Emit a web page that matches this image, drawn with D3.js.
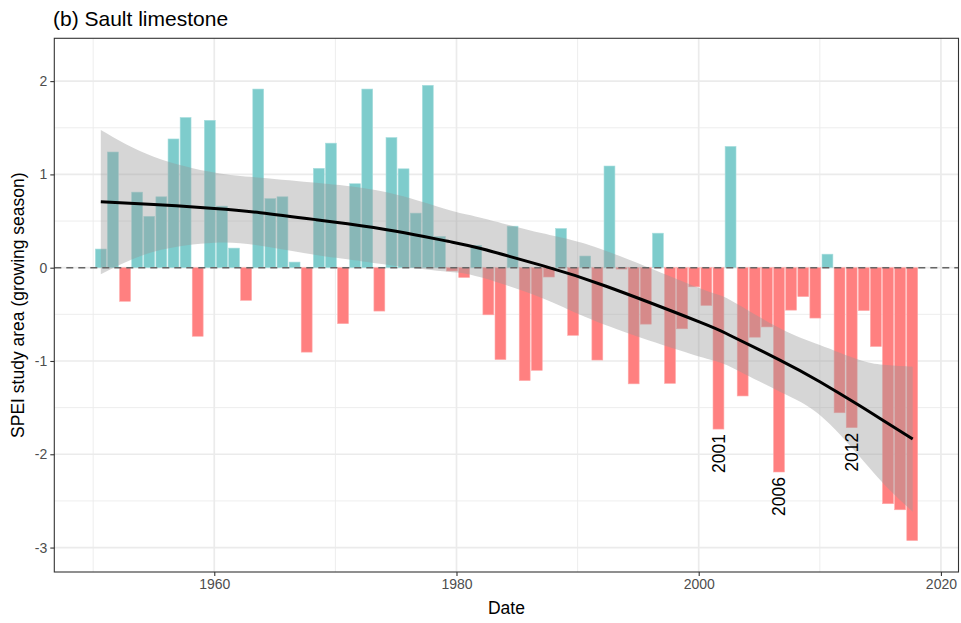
<!DOCTYPE html>
<html>
<head>
<meta charset="utf-8">
<script src="https://cdn.jsdelivr.net/npm/d3@7"></script>
<style>
  html, body { margin: 0; padding: 0; background: #ffffff; }
  svg { display: block; font-family: "Liberation Sans", Arial, sans-serif; }
</style>
</head>
<body>
<svg id="chart" width="961" height="623"></svg>
<script>
// ---------------- data ----------------
const years = [1950,1951,1952,1953,1954,1955,1956,1957,1958,1959,
               1960,1961,1962,1963,1964,1965,1966,1967,1968,1969,
               1970,1971,1972,1973,1974,1975,1976,1977,1978,1979,
               1980,1981,1982,1983,1984,1985,1986,1987,1988,1989,
               1990,1991,1992,1993,1994,1995,1996,1997,1998,1999,
               2000,2001,2002,2003,2004,2005,2006,2007,2008,2009,
               2010,2011,2012,2013,2014,2015,2016,2017];
const spei = [0.20, 1.24, -0.36, 0.81, 0.55, 0.76, 1.38, 1.61, -0.735, 1.58,
              0.66, 0.21, -0.35, 1.915, 0.74, 0.76, 0.06, -0.905, 1.065, 1.335,
              -0.60, 0.90, 1.915, -0.465, 1.395, 1.06, 0.585, 1.955, 0.335, -0.035,
              -0.105, 0.24, -0.505, -0.985, 0.445, -1.21, -1.10, -0.10, 0.42, -0.725,
              0.125, -0.99, 1.09, -0.015, -1.245, -0.605, 0.37, -1.24, -0.655, -0.205,
              -0.405, -1.73, 1.30, -1.375, -0.745, -0.635, -2.19, -0.455, -0.31, -0.54,
              0.145, -1.555, -1.715, -0.46, -0.845, -2.53, -2.595, -2.925];
// observation date within each year (month index, day)
const obsMonth = 7, obsDay = 19;

// fitted trend (decimal year), fit, lower and upper confidence band
const smoothYear  = [1950.63, 1955, 1960, 1963.8, 1968.4, 1971, 1975, 1979.3, 1982, 1987.1, 1992.3, 2000.1, 2002.6, 2006.7, 2010, 2013.3, 2015.5, 2017.67];
const smoothFit   = [0.707, 0.678, 0.635, 0.59, 0.515, 0.47, 0.39, 0.283, 0.205, 0.022, -0.196, -0.583, -0.727, -0.99, -1.222, -1.48, -1.66, -1.836];
const smoothLower = [-0.071, 0.171, 0.268, 0.236, 0.136, 0.09, 0.018, -0.043, -0.103, -0.328, -0.614, -0.954, -1.061, -1.329, -1.579, -2.026, -2.347, -2.615];
const smoothUpper = [1.476, 1.19, 1.02, 0.965, 0.91, 0.875, 0.785, 0.62, 0.535, 0.368, 0.182, -0.221, -0.346, -0.65, -0.829, -0.989, -1.043, -1.061];

const labelYears = [2001, 2006, 2012];
const xTickYears = [1960, 1980, 2000, 2020];
const xMinorYears = [1950, 1970, 1990, 2010];
const yTicks = [-3, -2, -1, 0, 1, 2];
const yMinor = [-2.5, -1.5, -0.5, 0.5, 1.5];

const titleText = "(b) Sault limestone";
const xTitle = "Date";
const yTitle = "SPEI study area (growing season)";

// ---------------- helpers ----------------
function decDate(yf) {
  const y = Math.floor(yf);
  const s = new Date(y, 0, 1), e = new Date(y + 1, 0, 1);
  return new Date(+s + (yf - y) * (e - s));
}
const DAY = 86400000;

// ---------------- layout ----------------
const L = 54.3, R = 958.5, T = 38.3, B = 572;
const svg = d3.select("#chart");

const x = d3.scaleTime()
  .domain([decDate(1946.79), decDate(2021.45)])
  .range([L, R]);
const y = d3.scaleLinear()
  .domain([-3.262, 2.459])
  .range([B, T]);

svg.append("rect").attr("x", L).attr("y", T).attr("width", R - L).attr("height", B - T).attr("fill", "#fff");

const grid = svg.append("g");
grid.selectAll(".xmin").data(xMinorYears).join("line")
  .attr("x1", d => x(new Date(d, 0, 1))).attr("x2", d => x(new Date(d, 0, 1)))
  .attr("y1", T).attr("y2", B).attr("stroke", "#ebebeb").attr("stroke-width", 0.9);
grid.selectAll(".ymin").data(yMinor).join("line")
  .attr("x1", L).attr("x2", R).attr("y1", d => y(d)).attr("y2", d => y(d))
  .attr("stroke", "#ebebeb").attr("stroke-width", 0.9);
grid.selectAll(".xmaj").data(xTickYears).join("line")
  .attr("x1", d => x(new Date(d, 0, 1))).attr("x2", d => x(new Date(d, 0, 1)))
  .attr("y1", T).attr("y2", B).attr("stroke", "#ebebeb").attr("stroke-width", 1.7);
grid.selectAll(".ymaj").data(yTicks).join("line")
  .attr("x1", L).attr("x2", R).attr("y1", d => y(d)).attr("y2", d => y(d))
  .attr("stroke", "#ebebeb").attr("stroke-width", 1.7);

// bars
const barData = years.map((yr, i) => ({ year: yr, date: new Date(yr, obsMonth, obsDay), v: spei[i] }));
const halfW = 0.45 * 365 * DAY;
svg.append("g").selectAll("rect").data(barData).join("rect")
  .attr("x", d => x(new Date(+d.date - halfW)))
  .attr("width", d => x(new Date(+d.date + halfW)) - x(new Date(+d.date - halfW)))
  .attr("y", d => y(Math.max(0, d.v)))
  .attr("height", d => Math.abs(y(d.v) - y(0)))
  .attr("fill", d => d.v >= 0 ? "#7ecccc" : "#ff8080")
  .attr("stroke", d => d.v >= 0 ? "#a9dede" : "#ffaaaa")
  .attr("stroke-width", 0.6);

// smooth ribbon
const sm = smoothYear.map((yr, i) => ({ date: decDate(yr), fit: smoothFit[i], lo: smoothLower[i], hi: smoothUpper[i] }));
svg.append("path").datum(sm)
  .attr("d", d3.area().curve(d3.curveNatural)
    .x(d => x(d.date)).y0(d => y(d.lo)).y1(d => y(d.hi)))
  .attr("fill", "#999999").attr("fill-opacity", 0.4);

// zero line
svg.append("line")
  .attr("x1", L).attr("x2", R).attr("y1", y(0)).attr("y2", y(0))
  .attr("stroke", "#666666").attr("stroke-width", 1.6).attr("stroke-dasharray", "7,5");

// smooth line
svg.append("path").datum(sm)
  .attr("d", d3.line().curve(d3.curveNatural).x(d => x(d.date)).y(d => y(d.fit)))
  .attr("fill", "none").attr("stroke", "#000").attr("stroke-width", 3);

// year labels
svg.append("g").selectAll("text").data(barData.filter(d => labelYears.includes(d.year))).join("text")
  .attr("transform", d => `translate(${x(d.date)},${y(d.v) + 5}) rotate(-90)`)
  .attr("text-anchor", "end").attr("dy", "0.35em")
  .attr("font-size", 17.5).attr("fill", "#000")
  .text(d => d.year);

// panel border
svg.append("rect").attr("x", L).attr("y", T).attr("width", R - L).attr("height", B - T)
  .attr("fill", "none").attr("stroke", "#333333").attr("stroke-width", 1.1);

// axes
const xAxis = d3.axisBottom(x)
  .tickValues(xTickYears.map(d => new Date(d, 0, 1)))
  .tickFormat(d3.timeFormat("%Y")).tickSizeOuter(0).tickSize(4).tickPadding(3);
const gx = svg.append("g").attr("transform", `translate(0,${B})`).call(xAxis);
gx.select(".domain").remove();
gx.selectAll("line").attr("stroke", "#333").attr("stroke-width", 1.1);
gx.selectAll("text").attr("font-size", 14).attr("fill", "#4d4d4d").attr("font-family", "Liberation Sans, Arial, sans-serif");

const yAxis = d3.axisLeft(y).tickValues(yTicks).tickFormat(d => String(d))
  .tickSizeOuter(0).tickSize(4).tickPadding(3);
const gy = svg.append("g").attr("transform", `translate(${L},0)`).call(yAxis);
gy.select(".domain").remove();
gy.selectAll("line").attr("stroke", "#333").attr("stroke-width", 1.1);
gy.selectAll("text").attr("font-size", 14).attr("fill", "#4d4d4d").attr("font-family", "Liberation Sans, Arial, sans-serif");

// titles
svg.append("text").attr("x", (L + R) / 2).attr("y", 614).attr("text-anchor", "middle")
  .attr("font-size", 17.5).attr("fill", "#000").text(xTitle);
svg.append("text").attr("transform", `translate(24,${(T + B) / 2}) rotate(-90)`)
  .attr("text-anchor", "middle").attr("font-size", 17.5).attr("fill", "#000").text(yTitle);
svg.append("text").attr("x", 53).attr("y", 26).attr("font-size", 21).attr("fill", "#000").text(titleText);
</script>
</body>
</html>
